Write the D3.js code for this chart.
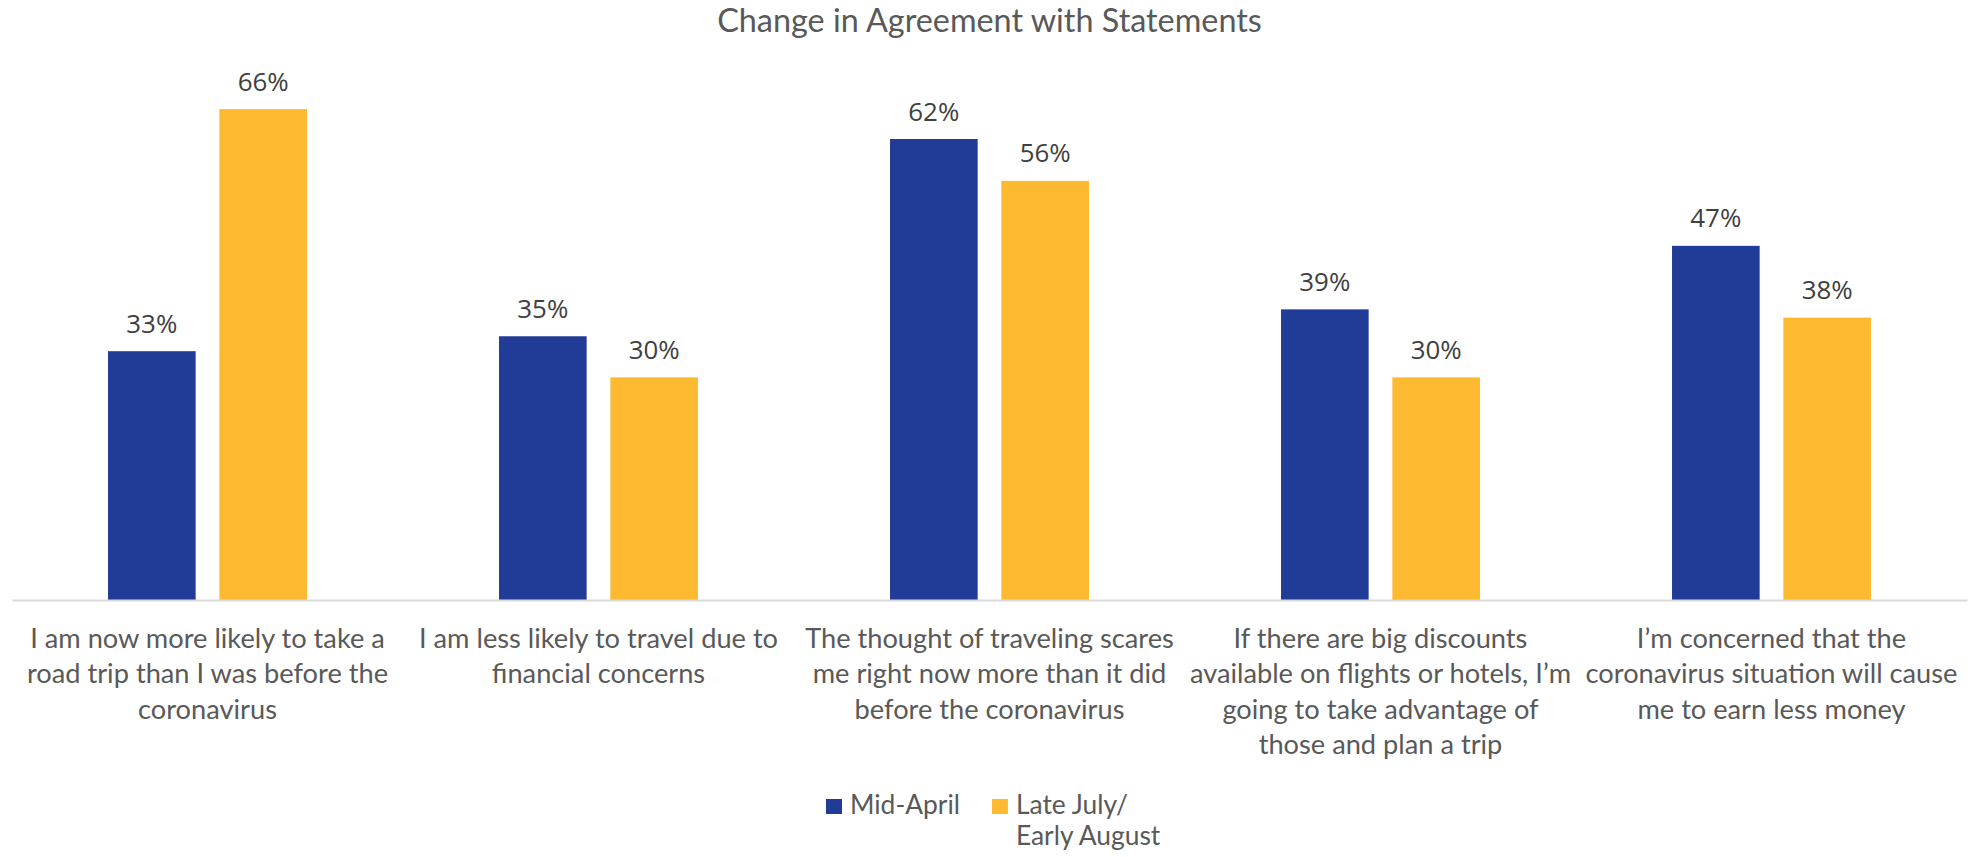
<!DOCTYPE html>
<html>
<head>
<meta charset="utf-8">
<script src="https://cdn.jsdelivr.net/npm/d3@7"></script>
<style>
  body { margin: 0; background: #ffffff; }
  svg { display: block; }
</style>
</head>
<body>
<svg id="chart" width="1972" height="857"></svg>
<script>
// ---------- data ----------
const chartTitle = "Change in Agreement with Statements";
const categories = ["roadtrip", "financial", "scares", "discounts", "earnless"];
const categoryLines = [
  ["I am now more likely to take a", "road trip than I was before the", "coronavirus"],
  ["I am less likely to travel due to", "financial concerns"],
  ["The thought of traveling scares", "me right now more than it did", "before the coronavirus"],
  ["If there are big discounts", "available on flights or hotels, I\u2019m", "going to take advantage of", "those and plan a trip"],
  ["I\u2019m concerned that the", "coronavirus situation will cause", "me to earn less money"]
];
const seriesNames = ["Mid-April", "Late July/ Early August"];
const legendLines = [["Mid-April"], ["Late July/", "Early August"]];
const midApril = [0.333, 0.353, 0.617, 0.389, 0.474];
const lateJulyEarlyAugust = [0.657, 0.298, 0.561, 0.298, 0.378];
const seriesColors = ["#213C96", "#FDBA30"];
const yMax = 0.7;

// ---------- setup ----------
const svg = d3.select("#chart");
const plot = { left: 12, right: 1967, top: 77, bottom: 600 };
const textFont = "Lato, 'Open Sans', sans-serif";
const labelFont = "'Open Sans', 'Noto Sans', sans-serif";

function fitSize(family, sample, target) {
  const t = svg.append("text").attr("font-family", family).attr("font-size", 100).text(sample);
  const w = t.node().getComputedTextLength();
  t.remove();
  return 100 * target / w;
}
const titleSize = fitSize(textFont, chartTitle, 545);
const catSize = fitSize(textFont, "coronavirus situation will cause", 372);
const legendSize = fitSize(textFont, "Mid-April", 110);
const valueSize = fitSize(labelFont, "39%", 51);

const seriesData = [midApril, lateJulyEarlyAugust];

const x0 = d3.scaleBand().domain(categories).range([plot.left, plot.right]).padding(0);
const x1 = d3.scaleBand().domain(seriesNames).range([0, x0.bandwidth()])
  .paddingInner(0.213).paddingOuter(0.8625);
const y = d3.scaleLinear().domain([0, yMax]).range([plot.bottom, plot.top]);
const fmt = d3.format(".0%");

// ---------- title ----------
svg.append("text")
  .attr("x", (plot.left + plot.right) / 2)
  .attr("y", 32)
  .attr("text-anchor", "middle")
  .attr("font-family", textFont)
  .attr("font-size", titleSize)
  .attr("fill", "#595959")
  .text(chartTitle);

// ---------- bars ----------
const flat = [];
categories.forEach((c, i) => {
  seriesNames.forEach((s, j) => flat.push({ cat: c, series: s, value: seriesData[j][i], color: seriesColors[j] }));
});

svg.append("g").selectAll("rect").data(flat).join("rect")
  .attr("x", d => x0(d.cat) + x1(d.series))
  .attr("y", d => y(d.value))
  .attr("width", x1.bandwidth())
  .attr("height", d => y(0) - y(d.value))
  .attr("fill", d => d.color);

// ---------- value labels ----------
svg.append("g").selectAll("text").data(flat).join("text")
  .attr("x", d => x0(d.cat) + x1(d.series) + x1.bandwidth() / 2)
  .attr("y", d => y(d.value) - 18.5)
  .attr("text-anchor", "middle")
  .attr("font-family", labelFont)
  .attr("font-size", valueSize)
  .attr("fill", "#404040")
  .text(d => fmt(d.value));

// ---------- x axis ----------
const xAxis = svg.append("g")
  .attr("transform", `translate(0,${plot.bottom})`)
  .call(d3.axisBottom(x0).tickSize(0).tickPadding(0));
xAxis.select(".domain").attr("stroke", "#D9D9D9").attr("stroke-width", 2);
xAxis.selectAll(".tick text").each(function(d, i) {
  const t = d3.select(this);
  t.text(null).attr("y", 0).attr("dy", null)
    .attr("font-family", textFont).attr("font-size", catSize).attr("fill", "#595959");
  categoryLines[i].forEach((line, k) => {
    t.append("tspan").attr("x", 0).attr("y", 47.5 + k * 35.5).text(line);
  });
});

// ---------- legend ----------
const legend = svg.append("g");
let lx = 826;
seriesNames.forEach((s, j) => {
  legend.append("rect").attr("x", lx).attr("y", 799).attr("width", 16).attr("height", 15)
    .attr("fill", seriesColors[j]);
  const t = legend.append("text")
    .attr("font-family", textFont).attr("font-size", legendSize).attr("fill", "#595959");
  legendLines[j].forEach((line, k) => {
    t.append("tspan").attr("x", lx + 24).attr("y", 814 + k * 31).text(line);
  });
  lx = lx + 24 + t.select("tspan").node().getComputedTextLength() + 32;
});
</script>
</body>
</html>
